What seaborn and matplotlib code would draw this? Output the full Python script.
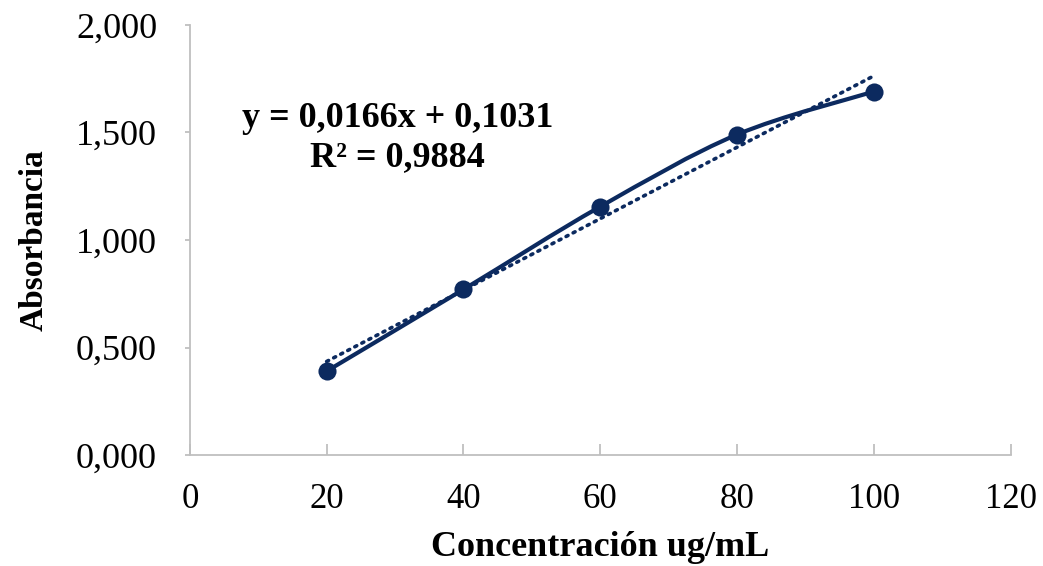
import numpy as np
import matplotlib
matplotlib.use("Agg")
import matplotlib.pyplot as plt
from matplotlib.path import Path
from matplotlib.patches import PathPatch
from matplotlib.ticker import FuncFormatter
import seaborn as sns
import pandas as pd

concentracion = [20, 40, 60, 80, 100]
absorbancia = [0.39, 0.77, 1.155, 1.49, 1.69]
pendiente = 0.0166
intercepto = 0.1031
r2 = 0.9884

NAVY = "#0c2a5f"
GRID = "#bfbfbf"


def smooth_path(xs, ys):
    # Excel-style smoothed line: cubic Bezier segments through the points
    pts = np.column_stack([xs, ys]).astype(float)
    n = len(pts)
    verts = [pts[0]]
    codes = [Path.MOVETO]
    for i in range(n - 1):
        p0 = pts[i - 1] if i > 0 else pts[i]
        p1 = pts[i]
        p2 = pts[i + 1]
        p3 = pts[i + 2] if i + 2 < n else pts[i + 1]
        c1 = p1 + (p2 - p0) / 6.0
        c2 = p2 - (p3 - p1) / 6.0
        verts += [c1, c2, p2]
        codes += [Path.CURVE4] * 3
    return Path(verts, codes)


def main():
    sns.set_style("white")
    plt.rcParams["font.family"] = ["Liberation Serif", "DejaVu Serif"]
    plt.rcParams["text.color"] = "black"
    plt.rcParams["axes.labelcolor"] = "black"
    plt.rcParams["xtick.labelcolor"] = "black"
    plt.rcParams["ytick.labelcolor"] = "black"

    df = pd.DataFrame({"x": concentracion, "y": absorbancia})

    fig = plt.figure(figsize=(10.43, 5.66), dpi=100)
    ax = fig.add_axes([0.182, 0.196, 0.787, 0.76])

    # linear trend line (dotted)
    xt = np.array([concentracion[0], concentracion[-1]])
    ax.plot(xt, pendiente * xt + intercepto, linestyle=(0, (0.6, 1.6)),
            dash_capstyle="round", color=NAVY, linewidth=2.6, zorder=2)

    # smoothed series line
    ax.add_patch(PathPatch(smooth_path(concentracion, absorbancia), facecolor="none",
                           edgecolor=NAVY, linewidth=3, zorder=3))
    sns.scatterplot(data=df, x="x", y="y", ax=ax, color=NAVY, s=170,
                    edgecolor=NAVY, linewidth=0, zorder=4, legend=False)

    ax.set_xlim(0, 120)
    ax.set_ylim(0, 2.0)
    ax.set_xticks(range(0, 121, 20))
    ax.set_yticks([0, 0.5, 1.0, 1.5, 2.0])
    ax.yaxis.set_major_formatter(FuncFormatter(lambda v, p: f"{v:.3f}".replace(".", ",")))

    for side in ["top", "right"]:
        ax.spines[side].set_visible(False)
    for side in ["left", "bottom"]:
        ax.spines[side].set_color(GRID)
        ax.spines[side].set_linewidth(1.3)

    ax.tick_params(axis="x", direction="in", length=8, width=1.3, color=GRID,
                   labelsize=25, pad=20, bottom=True)
    ax.tick_params(axis="y", direction="out", length=3.6, width=1.3, color=GRID,
                   labelsize=26, pad=20, left=True)

    ax.set_xlabel("Concentración ug/mL", fontsize=26, fontweight="bold", labelpad=11)
    ax.set_ylabel("Absorbancia", fontsize=24, fontweight="bold", labelpad=19)

    eq = f"y = {pendiente:.4f}x + {intercepto:.4f}".replace(".", ",")
    rr = f"R² = {r2:.4f}".replace(".", ",")
    ax.text(30.4, 1.475, eq + "\n" + rr, ha="center", va="center", multialignment="center",
            fontsize=26, fontweight="bold", linespacing=1.25)

    fig.savefig("out.png", dpi=100)
    plt.close(fig)


if __name__ == "__main__":
    main()
